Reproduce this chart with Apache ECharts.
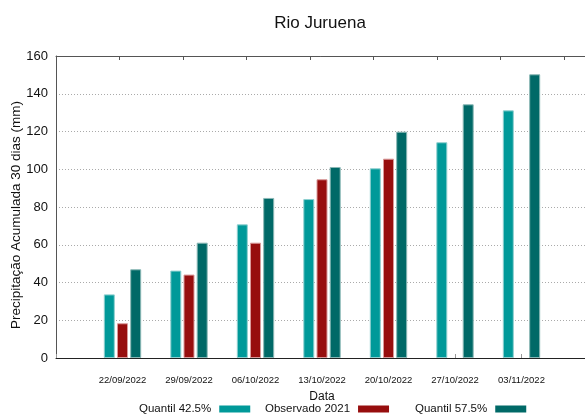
<!DOCTYPE html>
<html>
<head>
<meta charset="utf-8">
<script src="https://cdn.jsdelivr.net/npm/echarts@6/dist/echarts.min.js"></script>
<style>
  html, body { margin: 0; padding: 0; background: #fff; }
  #chart { width: 585px; height: 415px; }
</style>
</head>
<body>
<div id="chart"></div>
<script>
// dados
const dates = ['22/09/2022', '29/09/2022', '06/10/2022', '13/10/2022', '20/10/2022', '27/10/2022', '03/11/2022']
const quantil425 = [33.7, 46.3, 70.8, 84.2, 100.5, 114.3, 131.2]
const observado2021 = [18.4, 44.2, 61.1, 94.7, 105.6, null, null]
const quantil575 = [47.0, 61.1, 84.8, 101.2, 119.9, 134.4, 150.3]
const yTicks = [0, 20, 40, 60, 80, 100, 120, 140, 160]

// uma categoria vazia em cada ponta (como o eixo do gnuplot)
const pad = arr => [null].concat(arr, [null])
const categories = [''].concat(dates, [''])

const font = '"Liberation Sans Narrow", "Liberation Sans", sans-serif'
const chart = echarts.init(document.getElementById('chart'))

function bar(name, data, color, border) {
  return {
    name: name,
    type: 'bar',
    data: pad(data),
    barWidth: 11,
    barGap: '20%',
    itemStyle: { color: color, borderColor: border, borderWidth: 1 },
    animation: false
  }
}

function legendAt(name, left) {
  return {
    data: [name],
    left: left,
    top: 403,
    padding: 0,
    align: 'right',
    icon: 'rect',
    itemWidth: 31,
    itemHeight: 7,
    itemGap: 0,
    itemStyle: { borderWidth: 0 },
    textStyle: { fontFamily: font, fontSize: 11.5, color: '#111', padding: [0, 3, 0, 0] }
  }
}

chart.setOption({
  title: {
    text: 'Rio Juruena',
    left: 315,
    top: 10,
    textAlign: 'center',
    textStyle: { fontFamily: font, fontSize: 17, fontWeight: 'normal', color: '#111' }
  },
  legend: [
    legendAt('Quantil 42.5%', 139),
    legendAt('Observado 2021', 265),
    legendAt('Quantil 57.5%', 415)
  ],
  grid: { left: 56, top: 56, width: 532, bottom: 57, outerBoundsMode: 'none' },
  xAxis: [
    {
      type: 'category',
      data: categories,
      boundaryGap: false,
      name: 'Data',
      nameLocation: 'middle',
      nameGap: 33,
      nameTextStyle: { fontFamily: font, fontSize: 12, color: '#111' },
      axisLine: { lineStyle: { color: '#222', width: 1 } },
      axisTick: { inside: true, length: 4, lineStyle: { color: '#999' } },
      axisLabel: { interval: 0, margin: 17, fontFamily: font, fontSize: 9.5, color: '#111' },
      splitLine: { show: false }
    },
    {
      // borda superior com marcas
      type: 'value',
      position: 'top',
      min: 0,
      max: 532 / 63.5,
      interval: 1,
      axisLine: { show: true, lineStyle: { color: '#555' } },
      axisTick: { show: true, inside: true, length: 4, lineStyle: { color: '#555' } },
      axisLabel: { show: false },
      splitLine: { show: false }
    }
  ],
  yAxis: {
    type: 'value',
    min: yTicks[0],
    max: yTicks[yTicks.length - 1],
    interval: 20,
    name: 'Precipitação Acumulada 30 dias (mm)',
    nameLocation: 'middle',
    nameGap: 33,
    nameMoveOverlap: false,
    nameTextStyle: { fontFamily: 'Liberation Sans', fontSize: 13.5, color: '#111', padding: [0, 16, 0, 0] },
    axisLine: { show: true, lineStyle: { color: '#555' } },
    axisTick: { show: false },
    axisLabel: { margin: 8, fontFamily: 'Liberation Sans', fontSize: 13, color: '#111' },
    splitLine: { lineStyle: { color: '#aaa', type: [1, 2], width: 1 } }
  },
  series: [
    bar('Quantil 42.5%', quantil425, '#009999', '#8fd0d0'),
    bar('Observado 2021', observado2021, '#970e0e', '#d99a9a'),
    bar('Quantil 57.5%', quantil575, '#006967', '#8ab8b6')
  ]
})
</script>
</body>
</html>
